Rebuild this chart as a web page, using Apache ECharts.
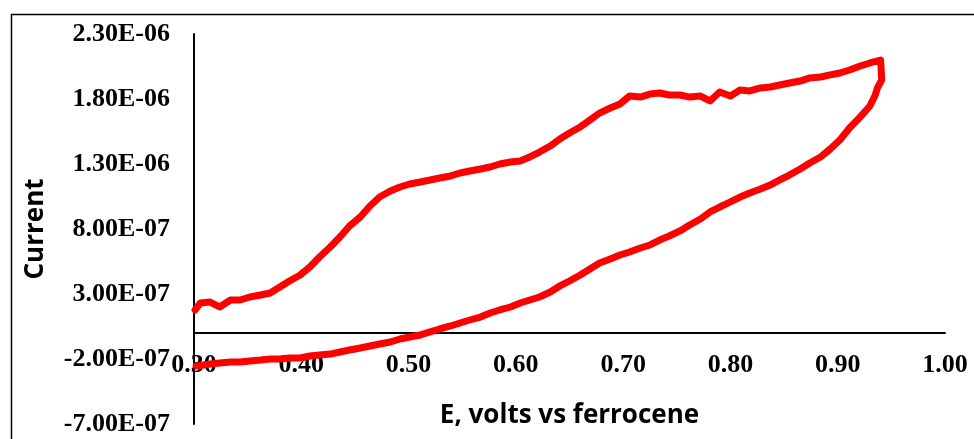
<!DOCTYPE html>
<html>
<head>
<meta charset="utf-8">
<script src="https://cdn.jsdelivr.net/npm/echarts@6/dist/echarts.min.js"></script>
<style>
  html, body { margin: 0; padding: 0; background: #fff; }
  #chart { width: 974px; height: 439px; }
</style>
</head>
<body>
<div id="chart"></div>
<script>
// current values are in units of 1e-7 A
const UNIT = 1e-7

// forward scan, 0.30 -> 0.94 V
const upperE = [0.301, 0.306, 0.315, 0.324, 0.334, 0.343, 0.352, 0.362, 0.371, 0.380,
  0.389, 0.399, 0.408, 0.417, 0.427, 0.436, 0.445, 0.455, 0.464, 0.473,
  0.483, 0.492, 0.501, 0.511, 0.520, 0.529, 0.539, 0.548, 0.557, 0.567,
  0.576, 0.585, 0.595, 0.604, 0.613, 0.622, 0.632, 0.641, 0.650, 0.660,
  0.669, 0.678, 0.688, 0.697, 0.706, 0.716, 0.725, 0.734, 0.743, 0.753,
  0.762, 0.772, 0.781, 0.790, 0.800, 0.809, 0.818, 0.828, 0.837, 0.846,
  0.855, 0.865, 0.874, 0.884, 0.893, 0.902, 0.911, 0.921, 0.930, 0.940]
const upperI = [1.77, 2.31, 2.38, 2.0, 2.54, 2.54, 2.77, 2.92, 3.08, 3.54,
  4.0, 4.46, 5.08, 5.85, 6.62, 7.38, 8.23, 8.92, 9.77, 10.46,
  10.92, 11.23, 11.46, 11.62, 11.77, 11.92, 12.08, 12.31, 12.46, 12.62,
  12.77, 13.0, 13.15, 13.23, 13.54, 13.92, 14.38, 14.92, 15.38, 15.85,
  16.38, 16.92, 17.31, 17.62, 18.23, 18.15, 18.38, 18.46, 18.31, 18.31,
  18.15, 18.23, 17.85, 18.54, 18.23, 18.69, 18.62, 18.85, 18.92, 19.08,
  19.23, 19.38, 19.62, 19.69, 19.85, 20.0, 20.23, 20.54, 20.77, 21.0]

// reverse scan, 0.94 -> 0.30 V
const lowerE = [0.940, 0.941, 0.937, 0.935, 0.930, 0.921, 0.911, 0.902, 0.893, 0.884,
  0.874, 0.865, 0.855, 0.846, 0.837, 0.828, 0.818, 0.809, 0.800, 0.790,
  0.781, 0.772, 0.762, 0.753, 0.743, 0.734, 0.725, 0.716, 0.706, 0.697,
  0.688, 0.678, 0.669, 0.660, 0.650, 0.641, 0.632, 0.622, 0.613, 0.604,
  0.595, 0.585, 0.576, 0.567, 0.557, 0.548, 0.539, 0.529, 0.520, 0.511,
  0.501, 0.492, 0.483, 0.473, 0.464, 0.455, 0.445, 0.436, 0.427, 0.417,
  0.408, 0.399, 0.389, 0.380, 0.371, 0.362, 0.352, 0.343, 0.334, 0.324,
  0.315, 0.302]
const lowerI = [20.85, 19.46, 18.85, 18.31, 17.46, 16.62, 15.77, 14.85, 14.15, 13.54,
  13.08, 12.62, 12.15, 11.77, 11.38, 11.08, 10.77, 10.46, 10.08, 9.69,
  9.31, 8.77, 8.31, 7.85, 7.46, 7.15, 6.77, 6.54, 6.23, 6.0,
  5.69, 5.38, 4.92, 4.46, 4.0, 3.62, 3.15, 2.77, 2.54, 2.31,
  2.0, 1.77, 1.54, 1.23, 1.0, 0.77, 0.54, 0.31, 0.08, -0.15,
  -0.31, -0.46, -0.69, -0.85, -1.0, -1.15, -1.31, -1.46, -1.62, -1.69,
  -1.77, -1.92, -1.92, -2.0, -2.0, -2.08, -2.15, -2.23, -2.23, -2.31,
  -2.38, -2.54]

const xTicks = { min: 0.3, max: 1.0, step: 0.1 }
const yTicks = { min: -7e-7, max: 2.3e-6, step: 5e-7 }

const loop = upperE.map((e, i) => [e, upperI[i] * UNIT])
  .concat(lowerE.map((e, i) => [e, lowerI[i] * UNIT]))

function sci(v) {
  if (Math.abs(v) < 1e-15) return '0.00E+00'
  const parts = v.toExponential(2).split('e')
  const n = parseInt(parts[1], 10)
  return parts[0] + 'E' + (n < 0 ? '-' : '+') + String(Math.abs(n)).padStart(2, '0')
}

const gridTop = 34, gridBottom = 15, chartH = 439
// x axis crosses at current = 0: shift it up from the grid bottom by that many pixels
const plotH = chartH - gridTop - gridBottom
const zeroShift = plotH * (0 - yTicks.min) / (yTicks.max - yTicks.min)

const serif = { fontFamily: '"Liberation Serif", "Times New Roman", serif', fontWeight: 'bold', fontSize: 26, color: '#000' }
const sans = { fontFamily: '"Open Sans", sans-serif', fontWeight: 'bold', fontSize: 26, color: '#000' }

const chart = echarts.init(document.getElementById('chart'), null, { renderer: 'canvas' })
chart.setOption({
  animation: false,
  backgroundColor: '#fff',
  graphic: [{
    type: 'rect',
    left: 9, top: 12,
    shape: { width: 1100, height: 600 },
    style: { fill: 'none', stroke: '#000', lineWidth: 1.5 },
    silent: true
  }],
  grid: { left: 194, right: 29, top: gridTop, bottom: gridBottom, outerBoundsMode: 'none' },
  xAxis: {
    type: 'value',
    min: xTicks.min, max: xTicks.max, interval: xTicks.step,
    offset: -zeroShift,
    name: 'E, volts vs ferrocene',
    nameLocation: 'middle',
    nameGap: 70,
    nameTextStyle: sans,
    axisLine: { onZero: false, lineStyle: { color: '#000', width: 2 } },
    axisTick: { show: false },
    splitLine: { show: false },
    axisLabel: Object.assign({ margin: 19, formatter: v => v.toFixed(2) }, serif)
  },
  yAxis: {
    type: 'value',
    min: yTicks.min, max: yTicks.max, interval: yTicks.step,
    name: 'Current',
    nameLocation: 'middle',
    nameGap: 145,
    nameTextStyle: sans,
    axisLine: { show: true, onZero: false, lineStyle: { color: '#000', width: 2 } },
    axisTick: { show: false },
    splitLine: { show: false },
    axisLabel: Object.assign({ margin: 24, formatter: sci }, serif)
  },
  series: [{
    type: 'line',
    data: loop,
    showSymbol: false,
    smooth: false,
    lineStyle: { color: '#ff0000', width: 7, join: 'round', cap: 'round' },
    z: 3
  }]
})
</script>
</body>
</html>
